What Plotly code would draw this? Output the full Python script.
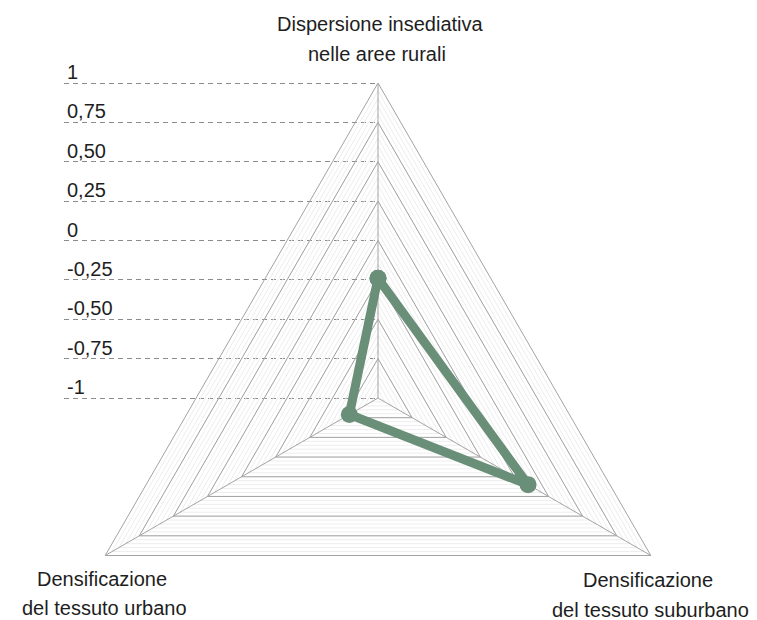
import plotly.graph_objects as go

# ---- data ----
categories = ["Dispersione insediativa<br>nelle aree rurali",
              "Densificazione<br>del tessuto suburbano",
              "Densificazione<br>del tessuto urbano"]
values = [-0.24, 0.10, -0.79]
tick_values = [-1, -0.75, -0.5, -0.25, 0, 0.25, 0.5, 0.75, 1]
tick_labels = ["-1", "-0,75", "-0,50", "-0,25", "0", "0,25", "0,50", "0,75", "1"]

# the polar radial axis measures the distance from the scale minimum
# (-1 sits in the centre); the printed scale on the left uses the raw values
V_MIN, V_MAX = tick_values[0], tick_values[-1]

def radial(v):
    return None if v is None else v - V_MIN

# ---- geometry (screen pixels) ----
OFF = 8                      # page body margin
W, H = 749, 705
CX, CY, R = 378, 398, 315
PX_PER_UNIT = R / (V_MAX - V_MIN)

def px_x(p):
    return (p - OFF) / W

def px_y(p):
    return 1 - (p - OFF) / H

FONT = dict(family="Liberation Sans, Arial, sans-serif", size=20, color="#1e1e1e")
GREEN = "#6a8f78"
GRID = "#a3a3a3"

fig = go.Figure()

# spokes
sp_r, sp_t = [], []
for c in categories:
    sp_r += [radial(V_MIN), radial(V_MAX), None]
    sp_t += [c, c, c]
fig.add_trace(go.Scatterpolar(r=sp_r, theta=sp_t, mode="lines",
                              line=dict(color=GRID, width=1),
                              hoverinfo="skip", showlegend=False))

# major polygon rings (outer ring is the angular axis line)
ring_r, ring_t = [], []
for v in tick_values[1:-1]:
    ring_r += [radial(v)] * (len(categories) + 1) + [None]
    ring_t += categories + [categories[0], categories[0]]
fig.add_trace(go.Scatterpolar(r=ring_r, theta=ring_t, mode="lines",
                              line=dict(color=GRID, width=1),
                              hoverinfo="skip", showlegend=False))

# data series
fig.add_trace(go.Scatterpolar(r=[radial(v) for v in values + [values[0]]],
                              theta=categories + [categories[0]],
                              customdata=values + [values[0]],
                              hovertemplate="%{theta}: %{customdata}<extra></extra>",
                              mode="lines+markers",
                              line=dict(color=GREEN, width=9),
                              marker=dict(color=GREEN, size=17),
                              showlegend=False))

# dummy trace to host the value scale on the left
fig.add_trace(go.Scatter(x=[None], y=[None], showlegend=False, hoverinfo="skip"))

# category labels, one annotation per text line
label_pos = [  # (x centre, y centre) per line
    [(380, 24), (377, 54)],
    [(648, 580), (650, 610)],
    [(102, 579), (104, 608)],
]
annotations = []
for cat, lines_pos in zip(categories, label_pos):
    for line, (lx, ly) in zip(cat.split("<br>"), lines_pos):
        annotations.append(dict(text=line, x=px_x(lx), y=px_y(ly),
                                xref="paper", yref="paper", showarrow=False,
                                xanchor="center", yanchor="middle", font=FONT))

Y_LO, Y_HI = -1.1, 1.25
fig.update_layout(
    width=W, height=H,
    margin=dict(l=0, r=0, t=0, b=0),
    paper_bgcolor="white", plot_bgcolor="rgba(0,0,0,0)",
    font=FONT,
    polar=dict(
        domain=dict(x=[px_x(CX - R), px_x(CX + R)], y=[px_y(CY + R), px_y(CY - R)]),
        bgcolor="rgba(0,0,0,0)",
        gridshape="linear",
        radialaxis=dict(range=[radial(V_MIN), radial(V_MAX)], tick0=0, dtick=0.05,
                        showgrid=True, gridcolor="#ededed", gridwidth=1,
                        showticklabels=False, ticks="", showline=False),
        angularaxis=dict(rotation=90, direction="clockwise",
                         showline=True, linecolor=GRID, linewidth=1,
                         showgrid=False,
                         showticklabels=False, ticks=""),
    ),
    xaxis=dict(domain=[px_x(64), px_x(CX)], range=[0, 1], visible=False, fixedrange=True),
    yaxis=dict(domain=[px_y(CY + PX_PER_UNIT * (V_MIN - Y_LO)),
                       px_y(CY - PX_PER_UNIT * (Y_HI - V_MIN))],
               range=[Y_LO, Y_HI],
               tickvals=tick_values, ticktext=tick_labels,
               ticklabelposition="inside top", ticklabelshift=3,
               showgrid=True, gridcolor="#8c8c8c", gridwidth=1, griddash="5px,4px",
               zeroline=False, showline=False, ticks="",
               tickfont=FONT, fixedrange=True),
    annotations=annotations,
)

fig.write_html("out.html")
